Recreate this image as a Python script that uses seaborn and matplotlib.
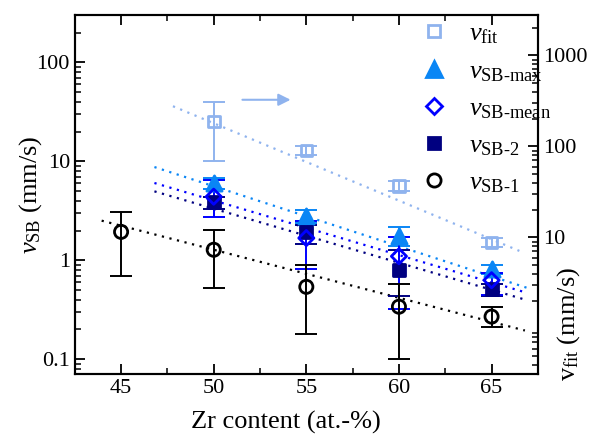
import numpy as np
import pandas as pd
import matplotlib
matplotlib.use("Agg")
import matplotlib.pyplot as plt
from matplotlib.lines import Line2D
from matplotlib.ticker import LogLocator, NullFormatter, MultipleLocator
import seaborn as sns

# ---- data ----
zr_sb1 = [45, 50, 55, 60, 65]
v_sb1 = [1.94, 1.28, 0.54, 0.34, 0.27]
v_sb1_hi = [3.1, 2.03, 0.9, 0.58, 0.34]
v_sb1_lo = [0.69, 0.53, 0.18, 0.10, 0.21]

zr = [50, 55, 60, 65]
v_sb2 = [3.85, 1.95, 0.79, 0.51]
v_sb2_hi = [4.4, 2.3, 1.26, 0.58]
v_sb2_lo = [3.3, 1.47, 0.44, 0.44]

v_mean = [4.4, 1.68, 1.1, 0.63]
v_mean_hi = [6.5, 2.5, 1.72, 0.75]
v_mean_lo = [2.74, 0.82, 0.32, 0.45]

v_max = [6.05, 2.83, 1.78, 0.82]
v_max_hi = [6.8, 3.25, 2.17, 0.9]
v_max_lo = [5.3, 2.4, 1.4, 0.72]

v_fit = [187, 90, 36.8, 8.8]
v_fit_hi = [306, 102, 42, 9.8]
v_fit_lo = [69, 80.5, 32.4, 7.8]

# exponential fits, v = v50 * 10**(k * (x - 50)), and their x-extent
fit_v50 = {"fit": 179.5, "max": 5.61, "mean": 4.03, "sb2": 3.33, "sb1": 1.28}
fit_k = {"fit": -0.085, "max": -0.0607, "mean": -0.0552, "sb2": -0.0547, "sb1": -0.0486}
fit_range = {"fit": (47.8, 66.5), "max": (46.8, 66.9), "mean": (46.8, 66.9),
             "sb2": (46.8, 66.9), "sb1": (43.95, 66.8)}

c_fit = "#8fb3ee"
c_max = "#0a86f5"
c_mean = "#0000ff"
c_sb2 = "#000080"
c_sb1 = "#000000"

sns.set_style("ticks")
plt.rcParams["font.family"] = ["Liberation Serif", "DejaVu Serif"]
plt.rcParams["mathtext.fontset"] = "custom"
plt.rcParams["mathtext.rm"] = "Liberation Serif"
plt.rcParams["mathtext.it"] = "Liberation Serif:italic"
plt.rcParams["text.color"] = "black"
plt.rcParams["axes.labelcolor"] = "black"
plt.rcParams["xtick.color"] = "black"
plt.rcParams["ytick.color"] = "black"

fig = plt.figure(figsize=(6.03, 4.42), dpi=100)
ax = fig.add_axes([0.124, 0.154, 0.768, 0.813])
ax2 = ax.twinx()


def draw(axis, key, x, y, hi, lo, color, marker, filled, size, label):
    y = np.array(y)
    yerr = [y - np.array(lo), np.array(hi) - y]
    xs = np.array(fit_range[key])
    fl = pd.DataFrame({"x": xs, "y": fit_v50[key] * 10 ** (fit_k[key] * (xs - 50))})
    sns.lineplot(data=fl, x="x", y="y", ax=axis, color=color, lw=1.6,
                 linestyle=(0, (1, 2.5)), legend=False)
    axis.errorbar(x, y, yerr=yerr, fmt="none", ecolor=color, elinewidth=1.4,
                  capsize=8, capthick=1.4, zorder=3)
    df = pd.DataFrame({"x": x, "y": y})
    sns.scatterplot(data=df, x="x", y="y", ax=axis, marker=marker, s=size,
                    facecolor=color if filled else "none", edgecolor=color,
                    linewidth=2.0, zorder=4, legend=False)
    return Line2D([], [], color=color, marker=marker, linestyle="none",
                  markersize=np.sqrt(size), markerfacecolor=color if filled else "none",
                  markeredgewidth=2.0, label=label)


h_fit = draw(ax2, "fit", zr, v_fit, v_fit_hi, v_fit_lo, c_fit, "s", False, 70,
             r"$v_{\mathrm{fit}}$")
h_max = draw(ax, "max", zr, v_max, v_max_hi, v_max_lo, c_max, "^", True, 120,
             r"$v_{\mathrm{SB‐max}}$")
h_sb2 = draw(ax, "sb2", zr, v_sb2, v_sb2_hi, v_sb2_lo, c_sb2, "s", True, 70,
             r"$v_{\mathrm{SB‐2}}$")
h_mean = draw(ax, "mean", zr, v_mean, v_mean_hi, v_mean_lo, c_mean, "D", False, 60,
              r"$v_{\mathrm{SB‐mean}}$")
h_sb1 = draw(ax, "sb1", zr_sb1, v_sb1, v_sb1_hi, v_sb1_lo, c_sb1, "o", False, 90,
             r"$v_{\mathrm{SB‐1}}$")

ax.set_yscale("log")
ax2.set_yscale("log")
ax.set_xlim(42.5, 67.5)
ax.set_ylim(0.0711, 305)
ax2.set_ylim(0.316, 2805)

ax.xaxis.set_major_locator(MultipleLocator(5))
ax.xaxis.set_minor_locator(MultipleLocator(2.5))
for a in (ax, ax2):
    a.yaxis.set_major_locator(LogLocator(base=10))
    a.yaxis.set_minor_locator(LogLocator(base=10, subs=np.arange(2, 10)))
    a.yaxis.set_minor_formatter(NullFormatter())
ax.set_yticks([0.1, 1, 10, 100], ["0.1", "1", "10", "100"])
ax2.set_yticks([10, 100, 1000], ["10", "100", "1000"])

ax.tick_params(axis="both", which="major", direction="in", length=7, width=1.3,
               labelsize=16, top=True, right=False)
ax.tick_params(axis="both", which="minor", direction="in", length=4, width=1.1,
               top=True, right=False)
ax2.tick_params(axis="y", which="major", direction="in", length=7, width=1.3, labelsize=16)
ax2.tick_params(axis="y", which="minor", direction="in", length=4, width=1.1)
for a in (ax, ax2):
    for s in a.spines.values():
        s.set_linewidth(1.5)
        s.set_color("black")

ax.set_xlabel("Zr content (at.-%)", fontsize=19)
ax.xaxis.set_label_coords(0.456, -0.102)
ax.set_ylabel(r"$v_{\mathrm{SB}}$ (mm/s)", fontsize=19)
ax.yaxis.set_label_coords(-0.067, 0.5)
ax2.set_ylabel(r"$\mathrm{v}_{\mathrm{fit}}$ (mm/s)", fontsize=19)
ax2.yaxis.set_label_coords(1.037, 0.14)

ax.annotate("", xy=(54.3, 42), xytext=(51.4, 42),
            arrowprops=dict(arrowstyle="-|>", color=c_fit, lw=1.5, mutation_scale=18))

ax2.legend(handles=[h_fit, h_max, h_mean, h_sb2, h_sb1], loc="upper left",
           bbox_to_anchor=(0.697, 1.045), frameon=False, fontsize=19,
           labelspacing=0.5, handlelength=1.0, handletextpad=0.8)

fig.savefig("out.png", dpi=100)
